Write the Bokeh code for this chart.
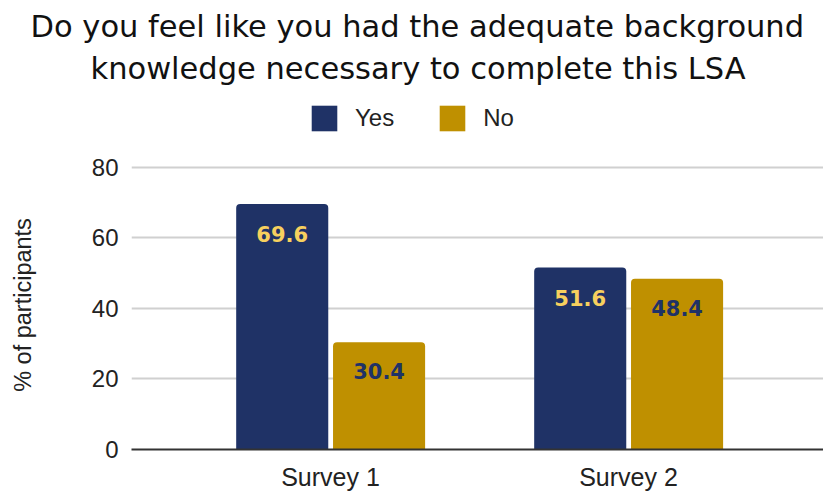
from bokeh.plotting import figure
from bokeh.layouts import column
from bokeh.models import (Range1d, FixedTicker, Legend, LegendItem, Title,
                          ColumnDataSource)
from bokeh.core.properties import value
from bokeh.embed import file_html
from bokeh.resources import INLINE

# ---- data ----
categories = ["Survey 1", "Survey 2"]
series_names = ["Yes", "No"]
yes_values = [69.6, 51.6]
no_values = [30.4, 48.4]
y_ticks = [0, 20, 40, 60, 80]
title_lines = ["Do you feel like you had the adequate background",
               "knowledge necessary to complete this LSA"]
y_label = "% of participants"

# ---- styling / layout constants ----
NAVY = "#1f3266"
GOLD = "#bf9000"
YES_LABEL = "#f7d05e"
AXIS_FONT = "Liberation Sans"
TITLE_FONT = "DejaVu Sans"
TEXT_COL = "#222222"

W_PX = 823
HEAD_H = 150            # header (title + legend) height
MAIN_H = 493 - HEAD_H   # chart height
LEFT, BOTTOM = 131, 41
TOP_PAD = 7             # frame top above the 80 gridline
PX_PER_Y = 285 / 80     # 0 -> 80 spans 285 px
Y_END = 80 + TOP_PAD / PX_PER_Y
X_START, X_END = 0.3322, 2.6544

xpos = [i + 1 for i in range(len(categories))]
W = 0.309
OFF_YES = -0.162
OFF_NO = 0.163

# ---------------- header: title + legend ----------------
# the header's ranges lie away from the data, so its bars (which only feed
# the legend swatches) stay out of view
head = figure(width=W_PX, height=HEAD_H, output_backend="svg",
              toolbar_location=None, x_range=Range1d(-3, 0),
              y_range=Range1d(-2, -1), x_axis_type=None, y_axis_type=None,
              min_border_left=LEFT, min_border_right=0, min_border_bottom=0,
              min_border_top=90, title=None)
head.grid.visible = False
head.outline_line_color = None

ly = head.vbar(x=xpos, top=yes_values, bottom=0, width=W, fill_color=NAVY,
               line_color=None)
ln = head.vbar(x=xpos, top=no_values, bottom=0, width=W, fill_color=GOLD,
               line_color=None)
legend = Legend(items=[LegendItem(label=series_names[0], renderers=[ly]),
                       LegendItem(label=series_names[1], renderers=[ln])],
                orientation="horizontal", location=(308 - LEFT, HEAD_H - 134),
                glyph_width=32, glyph_height=32, label_standoff=15,
                spacing=42, label_text_font=AXIS_FONT,
                label_text_font_size="24px", label_text_color=TEXT_COL,
                label_text_baseline="middle",
                border_line_color=None, background_fill_alpha=0,
                padding=0, margin=0)
head.add_layout(legend, "center")

# title lines (first added sits nearest the frame)
for line, left_px, gap in [(title_lines[1], 90, 10), (title_lines[0], 30, 0)]:
    head.add_layout(Title(text=line, align="left", offset=left_px - LEFT,
                          standoff=gap, text_font=TITLE_FONT,
                          text_font_size="30.5px", text_font_style="normal",
                          text_color="#111111"), "above")

# ---------------- main chart ----------------
p = figure(width=W_PX, height=MAIN_H, output_backend="svg",
           toolbar_location=None,
           x_range=Range1d(X_START, X_END), y_range=Range1d(0, Y_END),
           min_border_left=LEFT, min_border_right=0, min_border_bottom=BOTTOM,
           min_border_top=167 - HEAD_H - TOP_PAD, title=None)
p.outline_line_color = None
p.background_fill_color = "white"
p.border_fill_color = "white"

src_yes = ColumnDataSource(dict(x=[x + OFF_YES for x in xpos], top=yes_values,
                                lbl=[f"{v:.1f}" for v in yes_values]))
src_no = ColumnDataSource(dict(x=[x + OFF_NO for x in xpos], top=no_values,
                               lbl=[f"{v:.1f}" for v in no_values]))

p.vbar(x="x", top="top", bottom=0, width=W, source=src_yes,
       fill_color=NAVY, line_color=None, border_radius=(4, 4, 0, 0))
p.vbar(x="x", top="top", bottom=0, width=W, source=src_no,
       fill_color=GOLD, line_color=None, border_radius=(4, 4, 0, 0))

p.text(x="x", y="top", text="lbl", source=src_yes, text_align="center",
       text_baseline="middle", y_offset=30, text_color=YES_LABEL,
       text_font=value("DejaVu Sans"), text_font_style="bold",
       text_font_size="21px")
p.text(x="x", y="top", text="lbl", source=src_no, text_align="center",
       text_baseline="middle", y_offset=29, text_color=NAVY,
       text_font=value("DejaVu Sans"), text_font_style="bold",
       text_font_size="21px")

# grid
p.xgrid.visible = False
p.ygrid.ticker = FixedTicker(ticks=y_ticks)
p.ygrid.grid_line_color = "#d0d0d0"
p.ygrid.grid_line_width = 2

# y axis
p.yaxis.ticker = FixedTicker(ticks=y_ticks)
p.yaxis.axis_line_color = None
p.yaxis.major_tick_line_color = None
p.yaxis.minor_tick_line_color = None
p.yaxis.major_tick_out = 0
p.yaxis.major_tick_in = 0
p.yaxis.minor_tick_out = 0
p.yaxis.major_label_text_font = AXIS_FONT
p.yaxis.major_label_text_font_size = "24px"
p.yaxis.major_label_text_color = TEXT_COL
p.yaxis.major_label_standoff = 13
p.yaxis.axis_label = y_label
p.yaxis.axis_label_text_font = AXIS_FONT
p.yaxis.axis_label_text_font_size = "23.5px"
p.yaxis.axis_label_text_font_style = "normal"
p.yaxis.axis_label_text_color = TEXT_COL
p.yaxis.axis_label_standoff = 53

# x axis
p.xaxis.ticker = FixedTicker(ticks=xpos)
p.xaxis.major_label_overrides = {x: c for x, c in zip(xpos, categories)}
p.xaxis.axis_line_color = "#333333"
p.xaxis.axis_line_width = 2
p.xaxis.major_tick_line_color = None
p.xaxis.minor_tick_line_color = None
p.xaxis.major_tick_out = 0
p.xaxis.major_tick_in = 0
p.xaxis.minor_tick_out = 0
p.xaxis.major_label_text_font = AXIS_FONT
p.xaxis.major_label_text_font_size = "25px"
p.xaxis.major_label_text_color = TEXT_COL
p.xaxis.major_label_standoff = 13

layout = column(head, p, spacing=0)
open("out.html", "w").write(file_html(layout, INLINE))
